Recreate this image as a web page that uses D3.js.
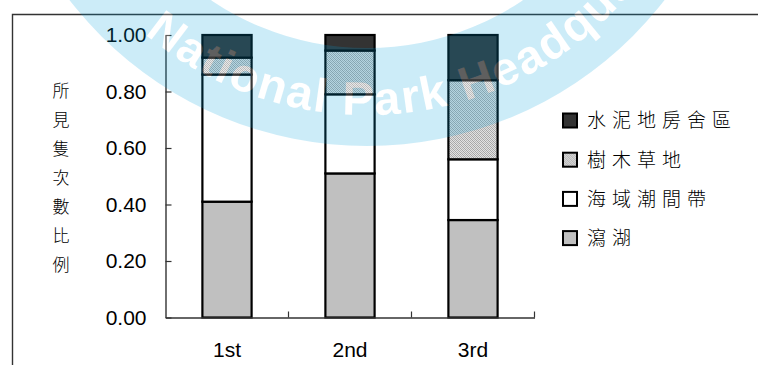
<!DOCTYPE html>
<html>
<head>
<meta charset="utf-8">
<script src="https://cdn.jsdelivr.net/npm/d3@7"></script>
<style>
  html, body { margin: 0; padding: 0; background: #fff; }
  svg { display: block; }
  .num { font-family: "Liberation Sans", Arial, sans-serif; font-size: 21px; fill: #000; }
  .cjk { font-family: "Noto Sans CJK TC", "Noto Sans CJK SC", sans-serif; font-weight: 300; fill: #000; }
</style>
</head>
<body>
<svg id="chart" width="758" height="365"></svg>
<script>
// Survey rounds and the share of sightings in each habitat
const categories = ["1st", "2nd", "3rd"];
const seriesNames = ["瀉湖", "海域潮間帶", "樹木草地", "水泥地房舍區"];
const lagoon     = [0.41, 0.51, 0.345];
const intertidal = [0.45, 0.28, 0.215];
const woodland   = [0.06, 0.155, 0.28];
const concrete   = [0.08, 0.055, 0.16];
const yTicks = [0, 0.2, 0.4, 0.6, 0.8, 1.0];
const yTitle = "所見隻次數比例";
const watermarkText = "National Park Headquarters";

const svg = d3.select("#chart");
const defs = svg.append("defs");

// fine grey hatch used for the woodland / grassland series
const pat = defs.append("pattern")
  .attr("id", "hatch").attr("patternUnits", "userSpaceOnUse")
  .attr("width", 4).attr("height", 4);
pat.append("rect").attr("width", 4).attr("height", 4).attr("fill", "#e2e2e2");
for (let i = 0; i < 4; i++) {
  pat.append("rect").attr("x", i).attr("y", i).attr("width", 1).attr("height", 1).attr("fill", "#a4a4a4");
  pat.append("rect").attr("x", i).attr("y", (i + 2) % 4).attr("width", 1).attr("height", 1).attr("fill", "#b4b4b4");
}

const fills = ["#c0c0c0", "#ffffff", "url(#hatch)", "#333333"];
const seriesValues = [lagoon, intertidal, woodland, concrete];

const rows = categories.map((c, i) => {
  const r = { cat: c };
  seriesNames.forEach((s, k) => r[s] = seriesValues[k][i]);
  return r;
});
const stacked = d3.stack().keys(seriesNames)(rows);

const x = d3.scaleBand().domain(categories).range([165.5, 534.5]).padding(0);
const y = d3.scaleLinear().domain([0, 1]).range([317.5, 35]);
const bw = x.bandwidth();

// outer frame (top and left edges)
svg.append("path")
  .attr("d", "M12.5,365V14.5H758")
  .attr("fill", "none").attr("stroke", "#333").attr("stroke-width", 1.4);

// stacked bars
stacked.forEach((layer, k) => {
  svg.append("g").selectAll("rect").data(layer).join("rect")
    .attr("x", d => x(d.data.cat) + bw * 0.3)
    .attr("width", bw * 0.4)
    .attr("y", d => y(d[1]))
    .attr("height", d => y(d[0]) - y(d[1]))
    .attr("fill", fills[k])
    .attr("stroke", "#000")
    .attr("stroke-width", 2.2);
});

// y axis
const yAxis = svg.append("g")
  .attr("transform", "translate(165.5,0)")
  .call(d3.axisLeft(y).tickValues(yTicks).tickSizeInner(-6).tickSizeOuter(0)
    .tickPadding(19).tickFormat(d3.format(".2f")));
yAxis.select(".domain").attr("stroke", "#333").attr("stroke-width", 1.4);
yAxis.selectAll(".tick line").attr("stroke", "#333").attr("stroke-width", 1.2);
yAxis.selectAll("text").attr("class", "num").attr("font-size", null).attr("font-family", null);

// x axis with labels centred under each bar
const xAxis = svg.append("g")
  .attr("transform", "translate(0,317.5)")
  .call(d3.axisBottom(x).tickSize(0).tickPadding(25));
xAxis.select(".domain").attr("stroke", "#333").attr("stroke-width", 1.4);
xAxis.selectAll("text").attr("class", "num").attr("font-size", null).attr("font-family", null);
// category boundary ticks, pointing up
xAxis.append("g").selectAll("line").data(categories).join("line")
  .attr("x1", d => x(d) + bw).attr("x2", d => x(d) + bw)
  .attr("y1", 0).attr("y2", -6)
  .attr("stroke", "#333").attr("stroke-width", 1.2);

// vertical y-axis title
svg.append("g").selectAll("text").data(Array.from(yTitle)).join("text")
  .attr("class", "cjk")
  .attr("x", 61).attr("y", (d, i) => 91 + i * 29)
  .attr("dy", "0.36em")
  .attr("text-anchor", "middle")
  .attr("font-size", 17)
  .text(d => d);

// legend, top series first
const legendItems = seriesNames.map((s, k) => ({ name: s, fill: fills[k] })).reverse();
const lg = svg.append("g").selectAll("g").data(legendItems).join("g")
  .attr("transform", (d, i) => `translate(563,${120.5 + i * 39.2})`);
lg.append("rect")
  .attr("x", 0).attr("y", -7).attr("width", 14).attr("height", 14)
  .attr("fill", d => d.fill).attr("stroke", "#000").attr("stroke-width", 2);
lg.append("text")
  .attr("class", "cjk")
  .attr("x", 24).attr("dy", "0.36em")
  .attr("font-size", 19)
  .attr("letter-spacing", 6)
  .text(d => d.name);

// translucent seal watermark laid over the chart
const cx = 367, cy = -230, rText = 345;
defs.append("path").attr("id", "wm-arc")
  .attr("d", `M${cx - rText},${cy}A${rText},${rText} 0 0 0 ${cx + rText},${cy}`);
const mask = defs.append("mask").attr("id", "wm-mask")
  .attr("maskUnits", "userSpaceOnUse").attr("x", 0).attr("y", 0)
  .attr("width", 758).attr("height", 365);
mask.append("rect").attr("width", 758).attr("height", 365).attr("fill", "#fff");
const wmText = sel => sel.append("text")
  .attr("font-family", "'Liberation Sans', Arial, sans-serif")
  .attr("font-weight", "bold").attr("font-size", 47).attr("letter-spacing", 2)
  .append("textPath").attr("href", "#wm-arc").attr("startOffset", 300)
  .text(watermarkText);
wmText(mask).attr("fill", "#000");

const wm = svg.append("g").attr("pointer-events", "none");
wm.append("g").attr("mask", "url(#wm-mask)")
  .append("path")
  .attr("transform", `translate(${cx},${cy})`)
  .attr("d", d3.arc()({ innerRadius: 278, outerRadius: 376, startAngle: 0, endAngle: 2 * Math.PI }))
  .attr("fill", "#00a0dc").attr("fill-opacity", 0.2);
wmText(wm).attr("fill", "#fff").attr("fill-opacity", 0.22);
</script>
</body>
</html>
